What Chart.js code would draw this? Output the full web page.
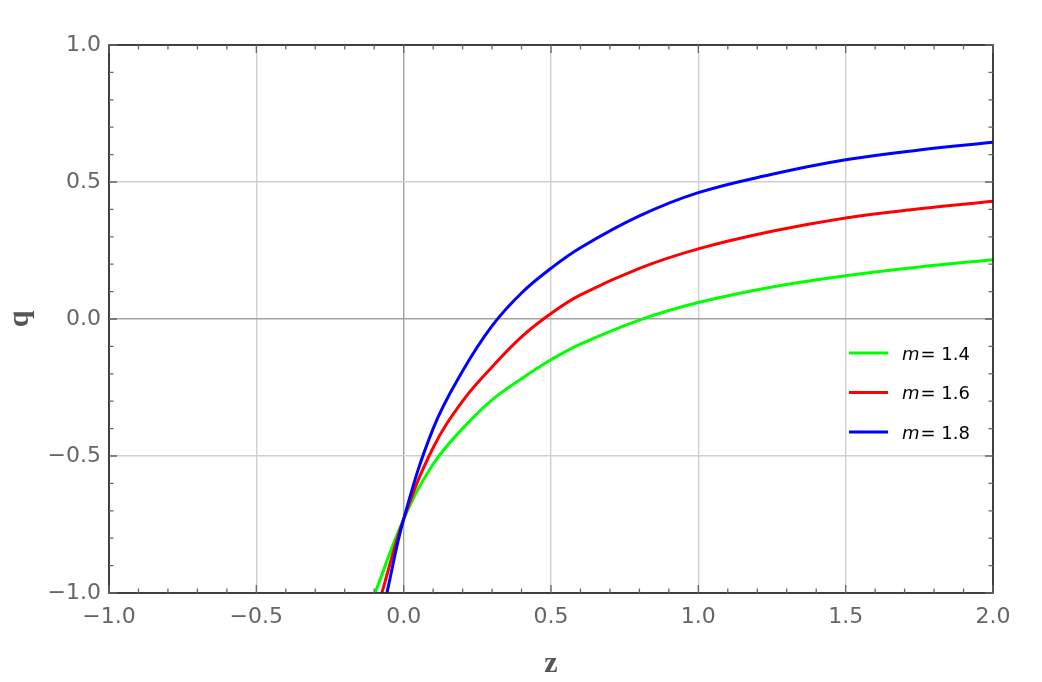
<!DOCTYPE html>
<html>
<head>
<meta charset="utf-8">
<script src="https://cdn.jsdelivr.net/npm/chart.js@4"></script>
<style>
  body { margin: 0; background: #fff; }
  #wrap { width: 1042px; height: 682px; }
</style>
</head>
<body>
<div id="wrap"><canvas id="qChart" width="1042" height="682"></canvas></div>
<script>
// values (z, q) for each m
const mValues = [1.4, 1.6, 1.8];
const colors = ['#00ff00', '#ff0000', '#0000ff'];

const z14 = [-0.097, 0, 0.1, 0.2, 0.3, 0.4, 0.5, 0.6, 0.8, 1.0, 1.25, 1.5, 1.75, 2.0];
const q14 = [-1.0, -0.73, -0.53, -0.40, -0.295, -0.218, -0.149, -0.092, -0.004, 0.06, 0.117, 0.158, 0.19, 0.216];

const z16 = [-0.074, 0, 0.1, 0.2, 0.3, 0.4, 0.5, 0.6, 0.8, 1.0, 1.25, 1.5, 1.75, 2.0];
const q16 = [-1.0, -0.73, -0.47, -0.30, -0.175, -0.065, 0.02, 0.088, 0.185, 0.256, 0.32, 0.369, 0.402, 0.43];

const z18 = [-0.057, 0, 0.1, 0.2, 0.3, 0.4, 0.5, 0.6, 0.8, 1.0, 1.25, 1.5, 1.75, 2.0];
const q18 = [-1.0, -0.73, -0.40, -0.19, -0.025, 0.095, 0.185, 0.26, 0.376, 0.461, 0.528, 0.581, 0.617, 0.645];

const xTicks = [-1.0, -0.5, 0.0, 0.5, 1.0, 1.5, 2.0];
const yTicks = [-1.0, -0.5, 0.0, 0.5, 1.0];

const pts = (zs, qs) => zs.map((z, i) => ({x: z, y: qs[i]}));
const series = [pts(z14, q14), pts(z16, q16), pts(z18, q18)];

const fmt = v => (v < 0 ? '\u2212' : '') + Math.abs(v).toFixed(1);
const gridColor = c => c.tick && c.tick.value === 0 ? '#a3a3a3' : '#d0d0d0';
const tickFont = {family: 'DejaVu Sans', size: 22};

// frame with inward ticks + legend, Mathematica style
const frame = {
  id: 'frame',
  afterDatasetsDraw(chart) {
    const {ctx, chartArea: a, scales: {x, y}} = chart;
    ctx.save();
    ctx.strokeStyle = '#1a1a1a';
    ctx.lineWidth = 1.6;
    ctx.strokeRect(a.left, a.top, a.right - a.left, a.bottom - a.top);

    ctx.strokeStyle = '#666';
    ctx.lineWidth = 1.3;
    ctx.beginPath();
    for (let i = -10; i <= 20; i++) {
      const px = x.getPixelForValue(i / 10);
      const len = i % 5 === 0 ? 8 : 4.5;
      ctx.moveTo(px, a.bottom); ctx.lineTo(px, a.bottom - len);
      ctx.moveTo(px, a.top); ctx.lineTo(px, a.top + len);
    }
    for (let i = -10; i <= 10; i++) {
      const py = y.getPixelForValue(i / 10);
      const len = i % 5 === 0 ? 8 : 4.5;
      ctx.moveTo(a.left, py); ctx.lineTo(a.left + len, py);
      ctx.moveTo(a.right, py); ctx.lineTo(a.right - len, py);
    }
    ctx.stroke();

    // legend
    const lx = a.right - 144, ly = a.top + 308, gap = 39.5;
    ctx.textBaseline = 'middle';
    ctx.fillStyle = '#000';
    chart.data.datasets.forEach((ds, i) => {
      const yy = ly + i * gap;
      ctx.strokeStyle = ds.borderColor;
      ctx.lineWidth = 3;
      ctx.beginPath();
      ctx.moveTo(lx, yy); ctx.lineTo(lx + 39, yy);
      ctx.stroke();
      ctx.font = 'oblique 18px "DejaVu Sans"';
      ctx.fillText('m', lx + 53, yy + 2);
      const w = ctx.measureText('m').width;
      ctx.font = '18px "DejaVu Sans"';
      ctx.fillText('= ' + mValues[i].toFixed(1), lx + 53 + w + 1, yy + 2);
    });
    ctx.restore();
  }
};

new Chart(document.getElementById('qChart'), {
  type: 'scatter',
  data: {
    datasets: series.map((d, i) => ({
      label: 'm = ' + mValues[i],
      data: d,
      showLine: true,
      borderColor: colors[i],
      backgroundColor: colors[i],
      borderWidth: 3,
      pointRadius: 0,
      tension: 0.4,
      order: 3 - i
    }))
  },
  options: {
    responsive: false,
    animation: false,
    devicePixelRatio: 1,
    layout: {padding: {left: 0, top: 45, right: 49, bottom: 0}},
    plugins: {legend: {display: false}, tooltip: {enabled: false}},
    scales: {
      x: {
        type: 'linear', min: -1, max: 2,
        afterBuildTicks: s => { s.ticks = xTicks.map(v => ({value: v})); },
        afterFit: s => { s.height = 89; },
        grid: {color: gridColor, lineWidth: 1.4, drawTicks: false},
        border: {display: false},
        ticks: {callback: fmt, font: tickFont, color: '#666', padding: 11, maxRotation: 0, autoSkip: false},
        title: {display: true, text: 'z', color: '#555',
                font: {family: 'Liberation Serif', size: 30, weight: 'bold'}, padding: {top: 6, bottom: 0}}
      },
      y: {
        type: 'linear', min: -1, max: 1,
        afterBuildTicks: s => { s.ticks = yTicks.map(v => ({value: v})); },
        afterFit: s => { s.width = 109; },
        grid: {color: gridColor, lineWidth: 1.4, drawTicks: false},
        border: {display: false},
        ticks: {callback: fmt, font: tickFont, color: '#666', padding: 8, autoSkip: false},
        title: {display: true, text: 'q', color: '#555',
                font: {family: 'Liberation Serif', size: 30, weight: 'bold'}, padding: {top: 2, bottom: 0}}
      }
    }
  },
  plugins: [frame]
});
</script>
</body>
</html>
